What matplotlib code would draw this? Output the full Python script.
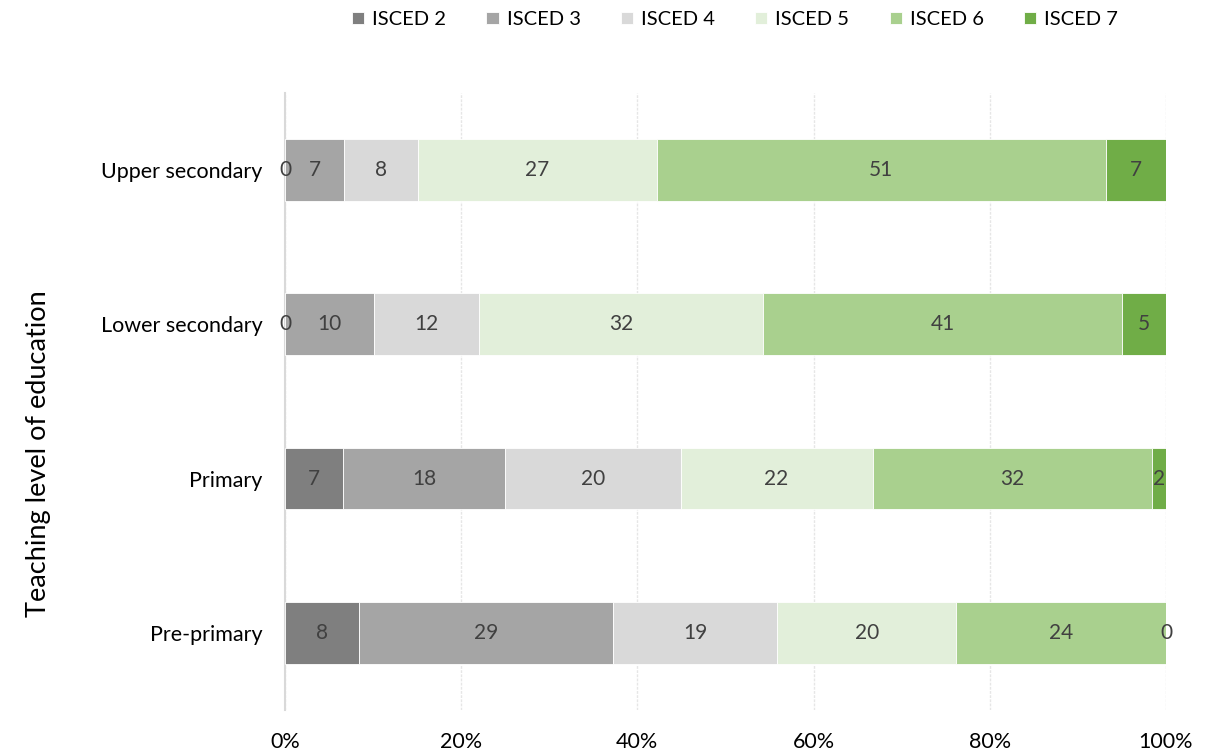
import matplotlib
matplotlib.use("Agg")
import matplotlib.pyplot as plt
import numpy as np

categories = ["Pre-primary", "Primary", "Lower secondary", "Upper secondary"]
series_names = ["ISCED 2", "ISCED 3", "ISCED 4", "ISCED 5", "ISCED 6", "ISCED 7"]
isced2 = [8.4, 6.6, 0.0, 0.0]
isced3 = [28.8, 18.4, 10.1, 6.7]
isced4 = [18.7, 19.9, 11.9, 8.4]
isced5 = [20.3, 21.8, 32.3, 27.1]
isced6 = [23.8, 31.7, 40.7, 51.0]
isced7 = [0.0, 1.6, 5.0, 6.8]
colors = ["#7f7f7f", "#a5a5a5", "#d9d9d9", "#e2efda", "#a9d08e", "#70ad47"]
xticks = [0, 20, 40, 60, 80, 100]
xticklabels = ["0%", "20%", "40%", "60%", "80%", "100%"]

plt.rcParams['font.family'] = ['Lato', 'DejaVu Sans']

fig = plt.figure(figsize=(12.11, 7.54), dpi=100)
ax = fig.add_axes([0.2353, 0.0584, 0.7275, 0.8183])

series = [isced2, isced3, isced4, isced5, isced6, isced7]
y = np.arange(len(categories))
left = np.zeros(len(categories))
for name, vals, c in zip(series_names, series, colors):
    vals = np.array(vals)
    bars = ax.barh(y, vals, left=left, height=0.4, color=c, label=name,
                   edgecolor="white", linewidth=0.6, zorder=3)
    labels = ["%d" % round(v) for v in vals]
    texts = ax.bar_label(bars, labels=labels, label_type="center", color="#404040",
                         fontsize=15)
    for t in texts:
        t.set_zorder(6)
    left = left + vals

ax.set_xlim(0, 100)
ax.set_ylim(-0.5, 3.5)
ax.set_yticks(y)
ax.set_yticklabels(categories, fontsize=15.5, color="#000000")
ax.set_xticks(xticks)
ax.set_xticklabels(xticklabels, fontsize=15.5)
ax.tick_params(axis="both", length=0)
ax.tick_params(axis="x", pad=16)
ax.tick_params(axis="y", pad=16)
for s in ["top", "right", "bottom"]:
    ax.spines[s].set_visible(False)
ax.spines["left"].set_color("#d9d9d9")
ax.spines["left"].set_linewidth(1.5)
ax.grid(axis="x", color="#e6e6e6", linewidth=1, linestyle=(0, (2, 1)), zorder=0)
ax.set_ylabel("Teaching level of education", fontsize=19.5)
ax.yaxis.set_label_coords(-0.265, 0.415)

fig.legend(loc="center", bbox_to_anchor=(0.607, 0.974), ncol=6, frameon=False,
           fontsize=14.5, handlelength=0.6, handleheight=0.6, handletextpad=0.4,
           columnspacing=2.0)

fig.savefig("out.png", dpi=100)
